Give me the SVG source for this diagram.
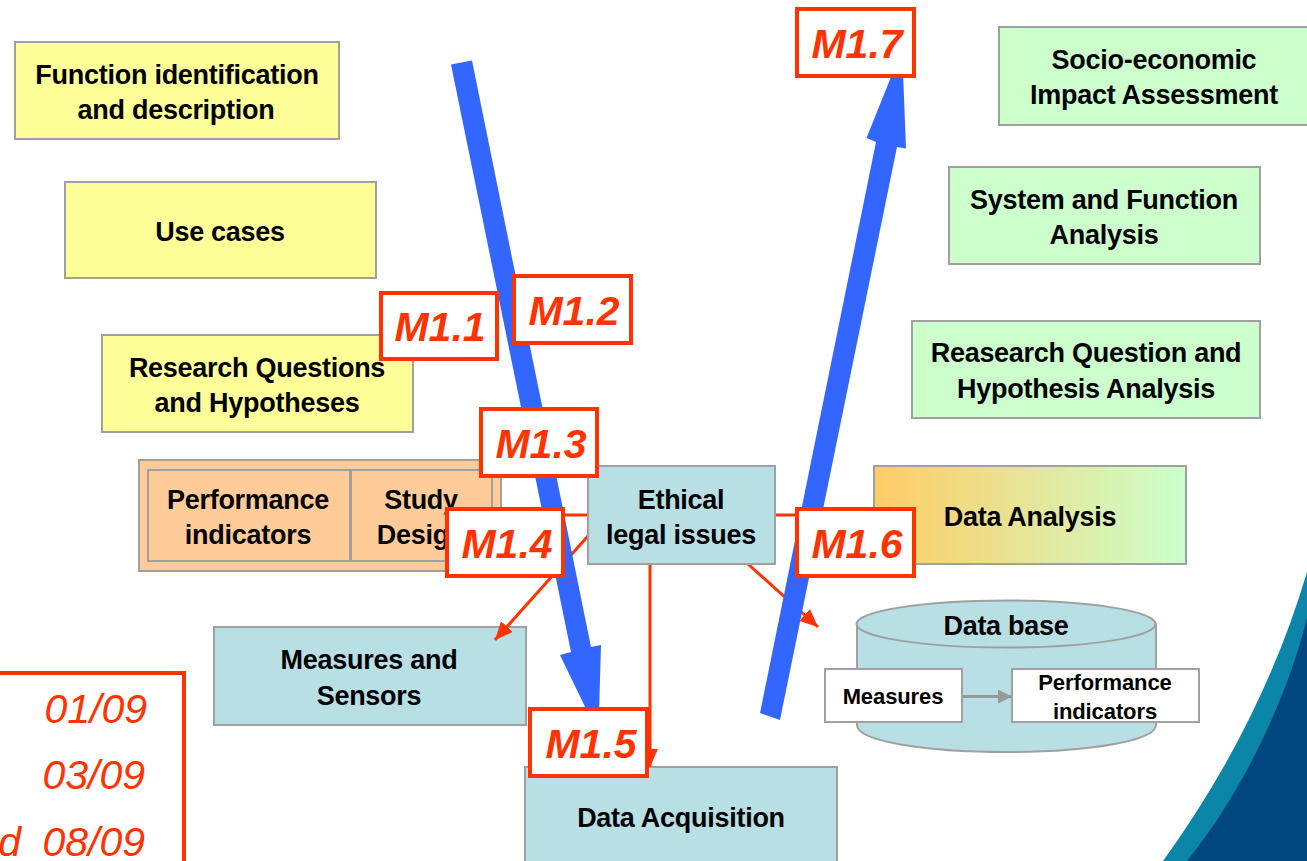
<svg xmlns="http://www.w3.org/2000/svg" width="1307" height="861" viewBox="0 0 1307 861">
<style>
text{font-family:"Liberation Sans",Arial,sans-serif}
.t{font-weight:bold;font-size:27px;letter-spacing:-.27px;fill:#000;text-anchor:middle}
.s{font-weight:bold;font-size:22px;letter-spacing:-.1px;fill:#000;text-anchor:middle}
.b{stroke:#a0a0a0;stroke-width:2}
.y{fill:#ffff99}.g{fill:#ccffcc}.o{fill:#ffcc99}.c{fill:#b8dfe3}.w{fill:#fff}
.m rect{fill:#fff;stroke:#ff3300;stroke-width:4}
.m text{font-weight:bold;font-style:italic;font-size:41px;fill:#ff3300;text-anchor:middle}
.d{font-style:italic;font-size:41px;fill:#ff3300;text-anchor:end}
.r{stroke:#ff3300;stroke-width:3;fill:none}
</style>
<defs>
<linearGradient id="da" x1="0" x2="1" y1="0" y2="0"><stop offset="0" stop-color="#ffcc66"/><stop offset="1" stop-color="#ccffcc"/></linearGradient>
<marker id="ra" markerUnits="userSpaceOnUse" markerWidth="20" markerHeight="18" refX="18" refY="8" orient="auto"><path d="M0 0L18 8L0 16Z" fill="#ff3300"/></marker>
<marker id="ga" markerUnits="userSpaceOnUse" markerWidth="16" markerHeight="16" refX="14" refY="7" orient="auto"><path d="M0 0L14 7L0 14Z" fill="#999"/></marker>
</defs>
<rect width="1307" height="861" fill="#fff"/>
<g id="corner"><path d="M1307 572C1275 680 1225 775 1163 861H1307Z" fill="#0b86a8"/><path d="M1307 618C1285 705 1240 795 1187 861H1307Z" fill="#00477f"/></g>

<g id="n-function"><rect class="b y" x="15" y="42" width="324" height="97"/><text class="t" x="177" y="84">Function identification</text><text class="t" x="176" y="119">and description</text></g>
<g id="n-usecases"><rect class="b y" x="65" y="182" width="311" height="96"/><text class="t" x="220" y="241">Use cases</text></g>
<g id="n-research"><rect class="b y" x="102" y="335" width="311" height="97"/><text class="t" x="257" y="377">Research Questions</text><text class="t" x="257" y="412">and Hypotheses</text></g>
<g id="n-socio"><rect class="b g" x="999" y="27" width="320" height="98"/><text class="t" x="1154" y="69">Socio-economic</text><text class="t" x="1154" y="104">Impact Assessment</text></g>
<g id="n-system"><rect class="b g" x="949" y="167" width="311" height="97"/><text class="t" x="1104" y="209">System and Function</text><text class="t" x="1104" y="244">Analysis</text></g>
<g id="n-hypo"><rect class="b g" x="912" y="321" width="348" height="97"/><text class="t" x="1086" y="362">Reasearch Question and</text><text class="t" x="1086" y="398">Hypothesis Analysis</text></g>
<g id="n-study"><rect class="b o" x="139" y="460" width="362" height="111"/><rect class="b o" x="148" y="470" width="202" height="91"/><rect class="b o" x="351" y="470" width="141" height="91"/><text class="t" x="248" y="509">Performance</text><text class="t" x="248" y="544">indicators</text><text class="t" x="421" y="509">Study</text><text class="t" x="421" y="544">Design</text></g>
<g id="n-analysis"><rect class="b" x="874" y="466" width="312" height="98" fill="url(#da)"/><text class="t" x="1030" y="526">Data Analysis</text></g>
<g id="n-measures"><rect class="b c" x="214" y="627" width="312" height="98"/><text class="t" x="369" y="669">Measures and</text><text class="t" x="369" y="705">Sensors</text></g>
<g id="n-acq"><rect class="b c" x="525" y="767" width="312" height="98"/><text class="t" x="681" y="827">Data Acquisition</text></g>
<g id="n-db"><path class="b c" d="M857 624V725C857 741 924 752 1006 752S1156 741 1156 725V624Z"/><ellipse class="b c" cx="1006" cy="624" rx="149.500" ry="23.500"/><text class="t" x="1006" y="635">Data base</text>
<rect class="b w" x="825" y="669" width="137" height="53"/><rect class="b w" x="1012" y="669" width="187" height="53"/><text class="s" x="893" y="704">Measures</text><text class="s" x="1105" y="690">Performance</text><text class="s" x="1105" y="719">indicators</text>
<path d="M963 696.500H1012" stroke="#999" stroke-width="3" fill="none" marker-end="url(#ga)"/></g>

<g id="connectors">
<path class="r" d="M587 515H560"/>
<path class="r" d="M776 515H800"/>
<path class="r" d="M588 536L495 640" marker-end="url(#ra)"/>
<path class="r" d="M748 564L818 627" marker-end="url(#ra)"/>
<path class="r" d="M650 564V767" marker-end="url(#ra)"/>
<path d="M451 64.500L472 60.500L591 647L601 645L599 715L589 715L560 655L571 652Z" fill="#3366ff"/>
<path d="M760 713L780 720L897 147L906 148.500L903 72L893 72L866.500 138L876 142Z" fill="#3366ff"/>
</g>

<g id="n-ethical"><rect class="b c" x="588" y="466" width="187" height="98"/><text class="t" x="681" y="509">Ethical</text><text class="t" x="681" y="544">legal issues</text></g>

<g id="m11" class="m"><rect x="381" y="293" width="116" height="66"/><text x="440" y="341">M1.1</text></g>
<g id="m12" class="m"><rect x="514" y="276" width="117" height="67"/><text x="574" y="325">M1.2</text></g>
<g id="m13" class="m"><rect x="481" y="409" width="116" height="67"/><text x="541" y="458">M1.3</text></g>
<g id="m14" class="m"><rect x="447" y="509" width="116" height="67"/><text x="507" y="558">M1.4</text></g>
<g id="m15" class="m"><rect x="530" y="709" width="117" height="67"/><text x="591" y="758">M1.5</text></g>
<g id="m16" class="m"><rect x="797" y="509" width="117" height="67"/><text x="857" y="558">M1.6</text></g>
<g id="m17" class="m"><rect x="797" y="9" width="117" height="67"/><text x="857" y="58">M1.7</text></g>

<g id="dates"><path d="M-5 673H184V866" stroke="#ff3300" stroke-width="4" fill="none"/><text class="d" x="147" y="723">01/09</text><text class="d" x="145" y="789">03/09</text><text class="d" x="145" y="856">08/09</text><text class="d" x="21" y="856">d</text></g>
</svg>
